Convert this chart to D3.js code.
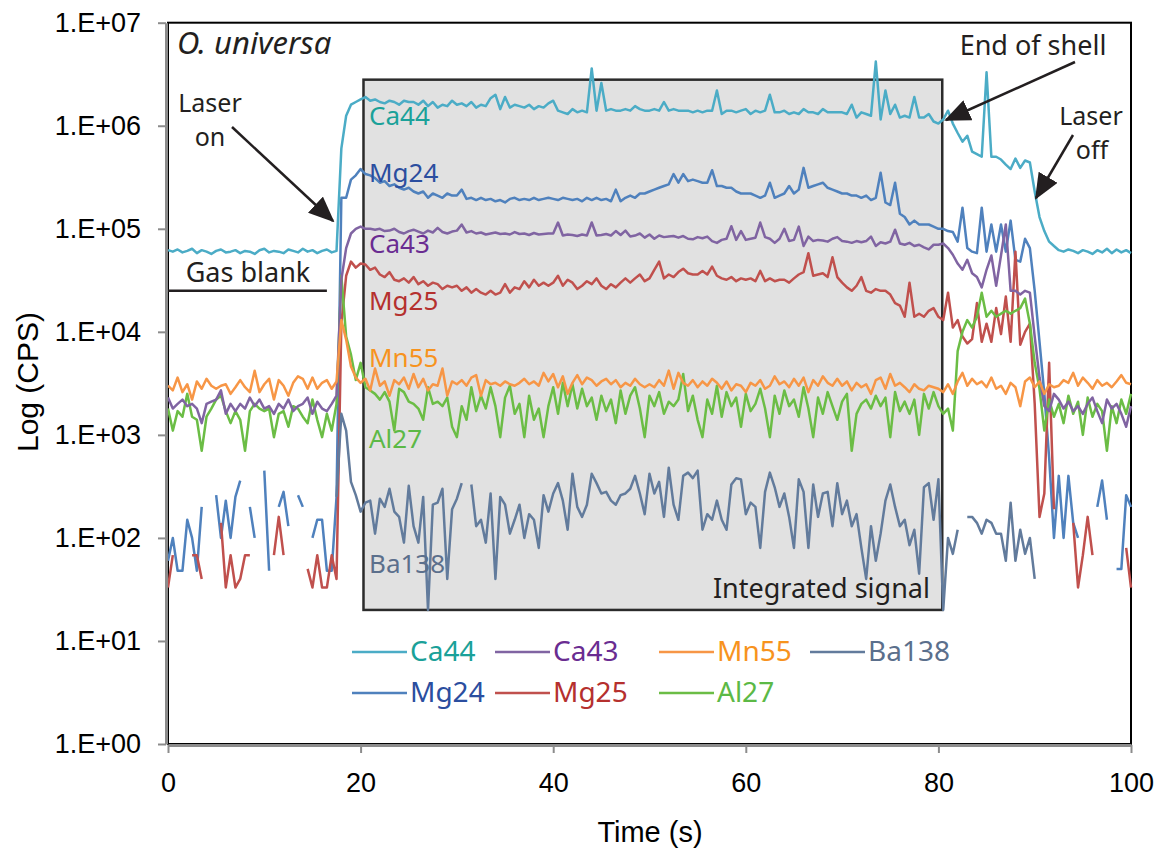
<!DOCTYPE html>
<html lang="en">
<head>
<meta charset="UTF-8">
<script src="https://d3js.org/d3.v7.min.js"></script>
<style>
  body { margin: 0; background: #fff; }
  svg text { font-family: "Noto Sans", "Open Sans", sans-serif; fill: #231f20; }
  .axis text { font-family: "Liberation Sans", Arial, sans-serif; font-size: 27px; fill: #000; }
  .axis path, .axis line { stroke: #8c8c8c; }
</style>
</head>
<body>
<script>
// counts per second, one reading every 0.5 s from 0 to 100 s (null = zero counts)
var sampleStep = 0.5;

var ca44 = [
  6.2e4,6.0e4,6.3e4,5.9e4,6.1e4,6.4e4,5.8e4,6.2e4,6.0e4,5.7e4,6.1e4,6.3e4,5.9e4,6.0e4,6.2e4,5.8e4,6.1e4,6.0e4,5.7e4,6.2e4,
  6.4e4,5.9e4,6.1e4,6.0e4,5.8e4,6.3e4,6.1e4,5.9e4,6.4e4,6.0e4,6.2e4,5.8e4,6.1e4,6.3e4,5.9e4,6.1e4,6.0e5,1.25e6,1.6e6,1.7e6,
  1.8e6,1.9e6,1.75e6,1.8e6,1.7e6,1.65e6,1.75e6,1.7e6,1.6e6,1.75e6,1.7e6,1.7e6,1.6e6,1.75e6,1.55e6,1.7e6,1.5e6,1.6e6,1.55e6,1.75e6,
  1.6e6,1.65e6,1.55e6,1.7e6,1.5e6,1.6e6,1.55e6,1.85e6,2.0e6,1.45e6,1.9e6,1.5e6,1.6e6,1.55e6,1.5e6,1.6e6,1.45e6,1.55e6,1.5e6,1.65e6,
  1.75e6,1.4e6,1.35e6,1.3e6,1.45e6,1.35e6,1.4e6,1.35e6,3.6e6,1.4e6,2.6e6,1.4e6,1.45e6,1.4e6,1.4e6,1.45e6,1.4e6,1.55e6,1.45e6,1.4e6,
  1.4e6,1.45e6,1.4e6,1.7e6,1.4e6,1.45e6,1.4e6,1.4e6,1.4e6,1.35e6,1.4e6,1.35e6,1.4e6,1.4e6,2.2e6,1.3e6,1.4e6,1.4e6,1.35e6,1.4e6,
  1.45e6,1.3e6,1.4e6,1.35e6,1.4e6,2.0e6,1.35e6,1.35e6,1.4e6,1.3e6,1.35e6,1.3e6,1.45e6,1.35e6,1.35e6,1.3e6,1.45e6,1.35e6,1.35e6,1.35e6,
  1.35e6,1.3e6,1.6e6,1.2e6,1.35e6,1.3e6,1.25e6,4.2e6,1.15e6,2.2e6,1.3e6,1.6e6,1.2e6,1.25e6,1.2e6,1.9e6,1.2e6,1.2e6,1.3e6,1.1e6,
  1.05e6,1.15e6,1.4e6,1.05e6,8.5e5,7.0e5,8.0e5,5.6e5,5.3e5,5.0e5,3.3e6,5.0e5,5.0e5,4.7e5,4.2e5,3.8e5,4.8e5,3.9e5,4.6e5,4.4e5,
  2.3e5,1.3e5,9.5e4,7.5e4,6.8e4,6.2e4,6.0e4,6.3e4,6.1e4,5.8e4,6.2e4,6.0e4,5.7e4,6.2e4,5.9e4,6.4e4,5.8e4,6.3e4,5.9e4,6.2e4,
  5.8e4
];

var mg24 = [
  60,100,48,48,150,100,48,200,null,null,260,100,230,100,250,360,null,200,100,null,
  450,48,null,200,280,130,null,260,200,null,100,150,150,48,48,250,2.0e5,2.0e5,3.0e5,3.3e5,
  3.8e5,3.4e5,3.3e5,3.1e5,2.8e5,2.9e5,2.6e5,2.7e5,2.5e5,2.4e5,2.5e5,2.3e5,2.2e5,2.3e5,2.0e5,2.2e5,2.1e5,2.0e5,2.2e5,2.1e5,
  2.1e5,2.4e5,1.95e5,2.0e5,1.9e5,2.0e5,1.9e5,1.95e5,1.85e5,1.9e5,1.8e5,1.95e5,2.0e5,1.9e5,1.95e5,1.9e5,2.0e5,1.9e5,1.95e5,2.0e5,
  1.95e5,1.9e5,2.0e5,1.95e5,1.9e5,1.95e5,1.85e5,2.0e5,1.9e5,2.0e5,1.9e5,1.95e5,1.85e5,2.4e5,1.85e5,2.0e5,2.1e5,2.0e5,2.2e5,2.2e5,
  2.3e5,2.4e5,2.5e5,2.6e5,2.7e5,3.4e5,2.8e5,3.4e5,2.9e5,3.0e5,2.9e5,2.8e5,2.8e5,3.7e5,2.6e5,2.6e5,2.5e5,2.5e5,2.3e5,2.2e5,
  2.2e5,2.2e5,2.1e5,2.0e5,2.1e5,2.8e5,2.0e5,2.1e5,2.2e5,2.6e5,2.2e5,2.4e5,3.9e5,2.5e5,2.6e5,2.7e5,2.8e5,2.5e5,2.4e5,2.3e5,
  2.2e5,2.2e5,2.1e5,2.1e5,2.0e5,2.1e5,1.9e5,2.0e5,3.5e5,1.8e5,1.7e5,2.8e5,1.4e5,1.3e5,1.1e5,1.2e5,1.1e5,1.1e5,1.1e5,1.05e5,
  1.0e5,1.0e5,9.5e4,9.3e4,7.5e4,1.6e5,6.5e4,6.0e4,5.8e4,1.6e5,6.0e4,1.1e5,6.0e4,1.1e5,6.0e4,1.2e5,5.0e4,4.8e4,8.0e4,6.5e4,
  2.5e4,8.0e3,2.5e3,600,100,400,100,400,140,100,null,null,null,200,360,150,null,50,50,260,
  200
];

var ca43 = [
  2.3e3,1.8e3,2.0e3,2.2e3,1.9e3,2.0e3,1.8e3,1.3e3,2.0e3,2.1e3,2.2e3,2.7e3,1.6e3,2.0e3,1.7e3,2.0e3,1.8e3,2.3e3,1.9e3,2.2e3,
  1.8e3,1.9e3,1.6e3,2.0e3,1.8e3,2.2e3,1.7e3,1.9e3,2.0e3,2.3e3,1.6e3,2.1e3,1.8e3,1.7e3,2.0e3,2.4e3,3.2e4,6.5e4,9.0e4,1.0e5,
  1.05e5,1.0e5,1.0e5,9.8e4,1.0e5,9.5e4,9.6e4,1.0e5,9.3e4,9.0e4,9.5e4,9.8e4,9.4e4,9.0e4,9.6e4,9.2e4,1.02e5,9.3e4,9.0e4,9.4e4,
  9.6e4,1.1e5,9.2e4,9.5e4,9.0e4,9.2e4,8.8e4,9.0e4,9.2e4,8.9e4,9.0e4,8.8e4,9.3e4,8.9e4,9.0e4,8.7e4,9.1e4,8.8e4,8.9e4,9.0e4,
  9.0e4,1.15e5,8.6e4,8.8e4,8.7e4,8.5e4,8.8e4,8.6e4,1.15e5,8.6e4,8.7e4,8.9e4,8.6e4,9.5e4,8.7e4,9.6e4,8.4e4,8.6e4,9.0e4,8.2e4,
  8.8e4,8.0e4,8.6e4,8.3e4,8.4e4,8.5e4,8.2e4,8.5e4,8.0e4,7.9e4,8.3e4,8.1e4,8.4e4,7.6e4,7.3e4,7.8e4,8.0e4,1.06e5,7.8e4,9.5e4,
  7.8e4,8.0e4,8.2e4,1.15e5,8.3e4,8.0e4,7.3e4,8.0e4,1.0e5,7.6e4,7.8e4,1.05e5,6.8e4,8.4e4,7.6e4,7.8e4,7.7e4,7.5e4,8.0e4,8.3e4,
  7.6e4,7.5e4,7.3e4,7.6e4,7.4e4,7.6e4,8.4e4,6.8e4,7.4e4,7.2e4,7.5e4,9.8e4,7.2e4,7.0e4,7.3e4,6.8e4,7.0e4,6.6e4,6.3e4,7.0e4,
  7.0e4,7.2e4,6.5e4,5.6e4,4.6e4,4.0e4,5.0e4,3.7e4,3.4e4,2.7e4,4.0e4,5.5e4,2.8e4,5.5e4,1.1e5,2.5e4,2.5e4,2.3e4,2.5e4,2.4e4,
  9.0e3,3.6e3,1.9e3,1.7e3,2.5e3,2.2e3,1.8e3,2.1e3,1.7e3,1.9e3,1.6e3,2.0e3,2.3e3,1.7e3,1.3e3,2.2e3,1.8e3,2.0e3,1.6e3,1.2e3,
  1.9e3
];

var mg25 = [
  33,68,null,null,null,68,68,40,null,null,null,140,33,68,33,40,68,68,null,null,
  null,null,68,160,68,null,null,null,null,50,33,68,33,33,68,40,1.2e4,3.5e4,4.8e4,4.2e4,
  4.6e4,4.5e4,4.0e4,4.2e4,3.6e4,3.4e4,3.8e4,3.2e4,3.1e4,3.3e4,3.0e4,3.4e4,2.9e4,3.1e4,2.8e4,3.0e4,2.9e4,2.6e4,2.8e4,2.7e4,
  2.8e4,2.5e4,2.7e4,2.4e4,2.6e4,2.4e4,2.3e4,2.5e4,2.3e4,2.4e4,2.9e4,2.4e4,2.7e4,2.6e4,3.1e4,2.7e4,3.2e4,2.8e4,3.0e4,2.8e4,
  3.0e4,3.5e4,2.8e4,3.2e4,3.0e4,2.6e4,2.8e4,3.1e4,2.9e4,3.3e4,2.8e4,2.6e4,2.9e4,2.7e4,3.0e4,3.3e4,3.0e4,3.3e4,3.6e4,3.1e4,
  3.3e4,4.0e4,4.8e4,3.3e4,3.6e4,3.4e4,3.8e4,4.1e4,3.7e4,3.6e4,3.6e4,3.9e4,3.6e4,4.3e4,3.5e4,3.3e4,3.2e4,3.4e4,3.1e4,3.3e4,
  3.2e4,3.3e4,3.1e4,3.9e4,3.1e4,3.3e4,3.1e4,3.2e4,3.2e4,3.0e4,3.3e4,3.6e4,3.8e4,5.8e4,3.5e4,3.6e4,3.7e4,3.4e4,5.3e4,3.4e4,
  3.0e4,2.7e4,2.5e4,2.8e4,3.4e4,2.5e4,2.4e4,2.6e4,2.5e4,2.5e4,2.3e4,1.9e4,1.8e4,1.4e4,3.0e4,1.4e4,1.5e4,1.4e4,1.6e4,1.7e4,
  1.4e4,1.3e4,2.4e4,1.1e4,1.3e4,9.0e3,7.7e3,8.5e3,1.9e4,8.0e3,1.2e4,8.0e3,1.7e4,9.5e3,2.2e4,8.0e3,6.0e4,7.5e3,1.0e4,1.2e4,
  2.0e3,160,270,5.0e3,190,null,null,null,140,33,68,160,68,null,null,null,null,null,null,80,
  33
];

var mn55 = [
  3.0e3,2.7e3,3.6e3,2.6e3,3.1e3,2.2e3,3.3e3,2.8e3,3.5e3,3.0e3,2.8e3,3.0e3,3.1e3,2.5e3,2.9e3,3.4e3,2.9e3,2.6e3,4.2e3,2.6e3,
  3.1e3,3.5e3,2.2e3,3.4e3,3.0e3,2.4e3,3.2e3,3.7e3,3.5e3,2.8e3,3.6e3,2.8e3,3.2e3,3.4e3,2.8e3,3.3e3,1.3e4,8.4e3,4.6e3,3.6e3,
  3.2e3,3.5e3,2.7e3,4.4e3,3.0e3,3.3e3,2.4e3,3.4e3,3.1e3,3.6e3,2.8e3,3.9e3,2.9e3,3.5e3,2.7e3,3.1e3,3.0e3,4.4e3,2.4e3,3.3e3,
  3.1e3,3.4e3,3.0e3,3.6e3,3.8e3,2.4e3,3.4e3,3.1e3,3.2e3,3.0e3,3.3e3,3.1e3,3.0e3,3.2e3,3.5e3,3.1e3,3.3e3,3.0e3,4.0e3,3.3e3,
  3.9e3,2.9e3,3.7e3,2.5e3,3.2e3,3.8e3,3.1e3,3.6e3,3.4e3,3.0e3,3.3e3,3.5e3,3.1e3,3.4e3,2.9e3,3.2e3,3.0e3,3.5e3,3.1e3,2.9e3,
  3.1e3,2.9e3,3.4e3,3.0e3,4.2e3,2.8e3,4.0e3,3.2e3,3.0e3,3.4e3,2.9e3,3.3e3,3.0e3,3.5e3,3.2e3,2.8e3,3.3e3,2.7e3,3.1e3,3.0e3,
  2.6e3,3.2e3,3.0e3,3.4e3,2.8e3,3.0e3,3.7e3,3.1e3,3.3e3,2.9e3,3.5e3,3.0e3,3.6e3,2.6e3,3.4e3,3.0e3,3.7e3,3.2e3,3.0e3,3.5e3,
  3.0e3,3.3e3,2.7e3,3.2e3,2.9e3,3.1e3,2.5e3,3.4e3,3.6e3,2.8e3,3.9e3,3.0e3,3.2e3,2.9e3,2.6e3,3.1e3,2.8e3,2.7e3,3.0e3,2.9e3,
  2.8e3,2.6e3,3.1e3,2.5e3,3.3e3,4.0e3,3.0e3,3.5e3,3.1e3,3.3e3,2.9e3,3.6e3,2.8e3,3.0e3,2.5e3,3.2e3,2.9e3,1.9e3,3.3e3,3.6e3,
  2.9e3,3.3e3,2.5e3,3.1e3,2.9e3,3.0e3,3.4e3,3.2e3,4.0e3,3.0e3,3.6e3,3.2e3,2.8e3,3.4e3,3.0e3,3.2e3,2.9e3,3.3e3,3.8e3,3.2e3,
  3.1e3
];

var al27 = [
  1.8e3,1.1e3,1.7e3,1.5e3,2.5e3,1.5e3,1.4e3,700,1.5e3,1.8e3,2.2e3,2.4e3,1.7e3,1.3e3,1.7e3,1.4e3,700,1.7e3,2.0e3,1.8e3,
  1.7e3,1.8e3,950,1.6e3,1.7e3,1.2e3,1.9e3,1.8e3,1.5e3,1.3e3,2.2e3,1.4e3,950,1.6e3,1.1e3,2.0e3,3.5e4,9.0e3,6.0e3,3.4e3,
  5.0e3,2.9e3,2.7e3,2.5e3,2.2e3,2.6e3,2.1e3,1.1e3,2.8e3,2.6e3,2.1e3,2.0e3,1.8e3,1.4e3,2.9e3,2.0e3,2.1e3,1.9e3,2.3e3,1.2e3,
  950,1.9e3,1.4e3,2.9e3,1.7e3,2.4e3,1.8e3,2.9e3,1.9e3,950,2.3e3,3.0e3,1.6e3,2.0e3,950,2.4e3,1.4e3,1.8e3,950,1.9e3,
  2.9e3,1.6e3,3.2e3,1.9e3,3.1e3,1.8e3,2.8e3,1.9e3,2.3e3,1.4e3,2.4e3,1.7e3,2.2e3,1.3e3,2.7e3,1.6e3,2.4e3,2.9e3,1.8e3,950,
  2.4e3,1.9e3,2.6e3,1.6e3,2.1e3,1.9e3,2.2e3,3.9e3,1.7e3,2.4e3,1.4e3,950,2.2e3,1.6e3,3.0e3,1.5e3,2.6e3,1.9e3,2.3e3,1.2e3,
  2.5e3,1.7e3,2.0e3,2.8e3,1.8e3,950,2.4e3,1.6e3,2.7e3,1.9e3,2.2e3,1.5e3,2.9e3,1.8e3,950,2.3e3,1.6e3,2.6e3,1.9e3,1.4e3,
  2.1e3,2.5e3,700,1.6e3,2.0e3,2.2e3,1.8e3,2.4e3,1.9e3,2.3e3,950,2.6e3,1.7e3,2.1e3,1.6e3,2.2e3,1.0e3,2.5e3,1.8e3,2.6e3,
  1.9e3,1.6e3,1.8e3,1.1e3,6.5e3,1.0e4,1.3e4,1.1e4,1.4e4,2.4e4,1.4e4,1.6e4,1.4e4,1.5e4,1.6e4,1.5e4,1.6e4,1.7e4,2.1e4,1.2e4,
  5.0e3,2.8e3,1.1e3,2.2e3,1.5e3,2.0e3,1.3e3,2.4e3,1.6e3,2.1e3,1.0e3,2.3e3,1.5e3,2.0e3,1.7e3,700,1.9e3,1.3e3,2.2e3,1.6e3,
  2.5e3
];

var ba138 = [
  null,null,null,null,null,null,null,null,null,null,null,null,null,null,null,null,null,null,null,null,
  null,null,null,null,null,null,null,null,null,null,null,null,null,null,null,250,1.6e3,1.1e3,350,260,
  180,220,230,110,240,200,300,180,160,90,320,130,90,250,20,210,220,300,40,190,
  240,340,null,330,130,150,90,270,40,250,210,110,150,210,100,170,150,80,260,180,
  270,340,230,120,420,200,160,210,420,340,270,280,230,210,260,270,300,400,270,170,
  420,270,350,160,480,210,150,400,430,380,450,120,170,150,230,150,120,330,380,370,
  170,220,200,80,280,430,310,200,270,160,80,370,280,80,330,160,270,280,130,340,
  170,230,130,170,80,40,130,60,110,230,330,200,130,150,85,120,45,310,340,150,
  370,20,100,70,120,null,160,160,140,110,150,140,110,110,60,220,60,120,70,100,
  40,null,null,null,null,null,null,null,null,null,null,null,null,null,null,null,null,null,null,null,
  null
];

var yTickValues = [1, 10, 100, 1e3, 1e4, 1e5, 1e6, 1e7];
var xTickValues = [0, 20, 40, 60, 80, 100];
var legendRow1 = ["Ca44", "Ca43", "Mn55", "Ba138"];
var legendRow2 = ["Mg24", "Mg25", "Al27"];
var integratedWindow = [20.3, 80.4];   // seconds
var integratedRange = [20, 2.8e6];     // CPS
var gasBlankEnd = 16.5;
var gasBlankLevel = 2.5e4;

// line colour and label colour per isotope, drawing order
var series = [
  { name: "Mg24",  values: mg24,  line: "#4f81bd", text: "#2b4e9f", labelY: 182 },
  { name: "Mg25",  values: mg25,  line: "#c0504d", text: "#b5302e", labelY: 310 },
  { name: "Ba138", values: ba138, line: "#627b9c", text: "#5b6f8c", labelY: 573 },
  { name: "Al27",  values: al27,  line: "#6bbd45", text: "#5cb946", labelY: 448 },
  { name: "Ca43",  values: ca43,  line: "#8064a2", text: "#6a2c91", labelY: 253 },
  { name: "Mn55",  values: mn55,  line: "#f79646", text: "#f7931e", labelY: 367 },
  { name: "Ca44",  values: ca44,  line: "#4bacc6", text: "#1aa199", labelY: 125 }
];
var byName = {};
series.forEach(function (s) { byName[s.name] = s; });

var width = 1155, height = 850;
var svg = d3.select("body").append("svg")
    .attr("width", width)
    .attr("height", height);

var x = d3.scaleLinear().domain([0, 100]).range([168, 1131]);
var y = d3.scaleLog().domain([1, 1e7]).range([744, 22.7]);

// plot frame
svg.append("rect")
    .attr("x", x(0)).attr("y", y(1e7))
    .attr("width", x(100) - x(0)).attr("height", y(1) - y(1e7))
    .attr("fill", "none").attr("stroke", "#000").attr("stroke-width", 2);

// integrated signal window
svg.append("rect")
    .attr("x", x(integratedWindow[0]))
    .attr("y", y(integratedRange[1]))
    .attr("width", x(integratedWindow[1]) - x(integratedWindow[0]))
    .attr("height", y(integratedRange[0]) - y(integratedRange[1]))
    .attr("fill", "#e1e1e1").attr("stroke", "#2b2b2b").attr("stroke-width", 2.5);

// gas blank bar
svg.append("line")
    .attr("x1", x(0)).attr("x2", x(gasBlankEnd))
    .attr("y1", y(gasBlankLevel)).attr("y2", y(gasBlankLevel))
    .attr("stroke", "#231f20").attr("stroke-width", 2.5);

// the traces
var line = d3.line()
    .defined(function (d) { return d != null; })
    .x(function (d, i) { return x(i * sampleStep); })
    .y(function (d) { return y(d); });

svg.selectAll("path.trace")
    .data(series)
    .enter().append("path")
    .attr("class", "trace")
    .attr("d", function (s) { return line(s.values); })
    .attr("fill", "none")
    .attr("stroke", function (s) { return s.line; })
    .attr("stroke-width", 2.5)
    .attr("stroke-linejoin", "round");

// isotope names inside the window
svg.selectAll("text.tag")
    .data(series)
    .enter().append("text")
    .attr("class", "tag")
    .attr("x", 369)
    .attr("y", function (s) { return s.labelY; })
    .style("font-size", "26px")
    .style("fill", function (s) { return s.text; })
    .text(function (s) { return s.name; });

// annotations
function note(str, px, py, anchor, size, italic) {
    svg.append("text")
        .attr("x", px).attr("y", py)
        .attr("text-anchor", anchor || "start")
        .style("font-size", (size || 27) + "px")
        .style("font-style", italic ? "italic" : "normal")
        .text(str);
}
note("O. universa", 177, 54, "start", 31, true);
note("Laser", 210, 112, "middle", 25);
note("on", 210, 146, "middle", 25);
note("Gas blank", 248, 282, "middle");
note("End of shell", 1033, 55, "middle");
note("Laser", 1091, 125, "middle", 25);
note("off", 1092, 159, "middle", 25);
note("Integrated signal", 930, 598, "end");

svg.append("defs").append("marker")
    .attr("id", "head")
    .attr("markerUnits", "userSpaceOnUse")
    .attr("viewBox", "0 0 26 22")
    .attr("markerWidth", 26).attr("markerHeight", 22)
    .attr("refX", 24).attr("refY", 11)
    .attr("orient", "auto")
    .append("path").attr("d", "M0,0 L26,11 L0,22 Z").attr("fill", "#231f20");

var arrows = [
    [232, 127, 333, 221],
    [1075, 62, 946, 120],
    [1073, 135, 1036, 198]
];
svg.selectAll("line.arrow")
    .data(arrows)
    .enter().append("line")
    .attr("class", "arrow")
    .attr("x1", function (d) { return d[0]; })
    .attr("y1", function (d) { return d[1]; })
    .attr("x2", function (d) { return d[2]; })
    .attr("y2", function (d) { return d[3]; })
    .attr("stroke", "#231f20").attr("stroke-width", 2.5)
    .attr("marker-end", "url(#head)");

// legend
var legendCols = [352, 495, 659, 810];
var legendRows = [652, 693];
[legendRow1, legendRow2].forEach(function (row, r) {
    row.forEach(function (name, c) {
        var s = byName[name];
        var g = svg.append("g")
            .attr("transform", "translate(" + legendCols[c] + "," + legendRows[r] + ")");
        g.append("line")
            .attr("x1", 0).attr("x2", 55)
            .attr("stroke", s.line).attr("stroke-width", 2.5);
        g.append("text")
            .attr("x", 58).attr("y", 9)
            .style("font-size", "28px")
            .style("fill", s.text)
            .text(name);
    });
});

// axes
var yAxis = d3.axisLeft(y)
    .tickValues(yTickValues)
    .tickFormat(function (d) {
        var e = Math.round(Math.log10(d));
        return "1.E+" + (e < 10 ? "0" : "") + e;
    })
    .tickSize(8).tickSizeOuter(0).tickPadding(17);

svg.append("g")
    .attr("class", "axis")
    .attr("transform", "translate(166,0)")
    .call(yAxis);

var xAxis = d3.axisBottom(x)
    .tickValues(xTickValues)
    .tickSize(8).tickSizeOuter(0).tickPadding(20);

svg.append("g")
    .attr("class", "axis")
    .attr("transform", "translate(0,745)")
    .call(xAxis);

svg.selectAll(".axis .domain").attr("stroke-width", 3);
svg.selectAll(".axis .tick line").attr("stroke-width", 2);

svg.append("text")
    .attr("x", 650).attr("y", 842)
    .attr("text-anchor", "middle")
    .style("font-family", "'Liberation Sans', Arial, sans-serif")
    .style("font-size", "29px")
    .style("fill", "#000")
    .text("Time (s)");

svg.append("text")
    .attr("transform", "translate(38,382) rotate(-90)")
    .attr("text-anchor", "middle")
    .style("font-family", "'Liberation Sans', Arial, sans-serif")
    .style("font-size", "30px")
    .style("fill", "#000")
    .text("Log (CPS)");
</script>
</body>
</html>
